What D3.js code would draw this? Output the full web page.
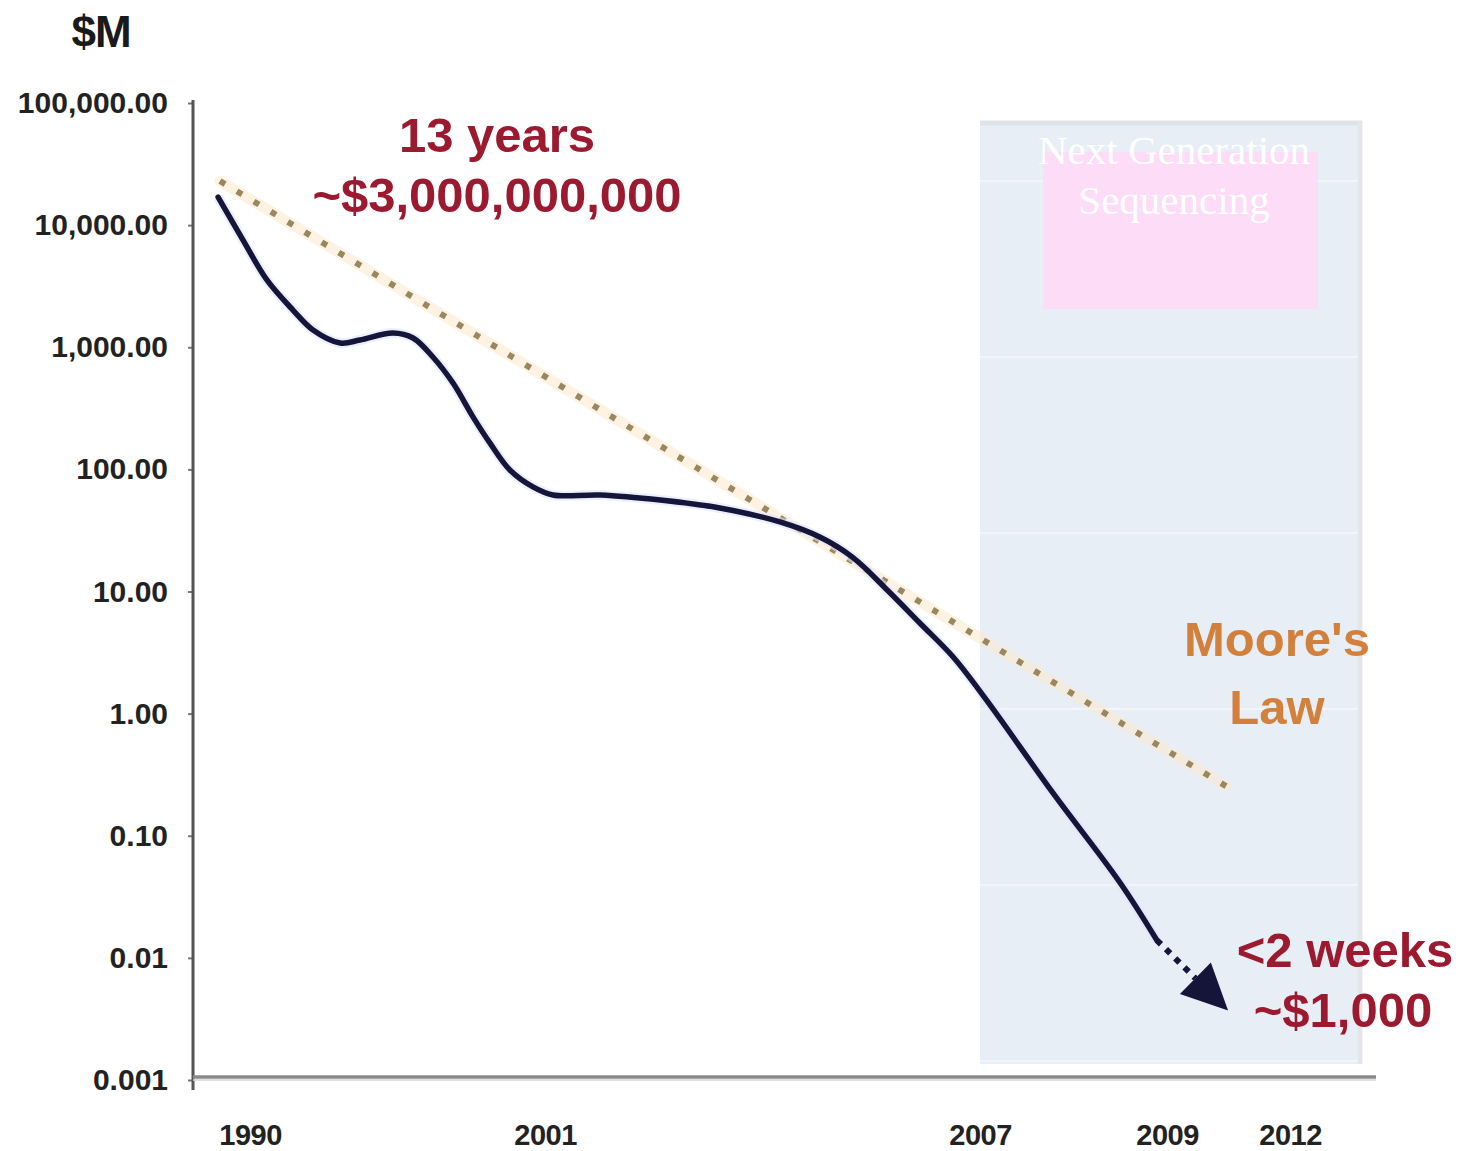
<!DOCTYPE html>
<html>
<head>
<meta charset="utf-8">
<script src="https://cdn.jsdelivr.net/npm/d3@7"></script>
<style>
  html, body { margin: 0; padding: 0; background: #ffffff; }
  svg { display: block; }
</style>
</head>
<body>
<svg id="chart" width="1459" height="1151"></svg>
<script>
// ---------------- DATA ----------------
const xTickYears = [1990, 2001, 2007, 2009, 2012];
const xTickLabels = ["1990", "2001", "2007", "2009", "2012"];

const yTickValues = [100000, 10000, 1000, 100, 10, 1, 0.1, 0.01, 0.001];
const yTickLabels = ["100,000.00", "10,000.00", "1,000.00", "100.00", "10.00", "1.00", "0.10", "0.01", "0.001"];

// Cost per genome ($M)
const costYears = [1988.81, 1989.74, 1990.63, 1991.60, 1992.35, 1993.36, 1994.10, 1995.33, 1996.08, 1996.82,
                   1997.57, 1998.32, 1998.95, 1999.69, 2000.55, 2001.11, 2001.76, 2002.59, 2003.41, 2004.24,
                   2004.79, 2005.24, 2005.72, 2006.17, 2006.63, 2007.07, 2007.78, 2008.50, 2008.89];
const costValues = [16990, 7550, 3556, 2018, 1384, 1084, 1147, 1308, 1191, 832,
                    509, 268, 164, 98.8, 71.8, 61.7, 61.7, 56.1, 48.3, 37.1,
                    27.9, 19.1, 10.3, 5.52, 2.91, 1.29, 0.224, 0.041, 0.014];

// Projection to the ~$1,000 genome (dotted + arrow)
const projYears = [2008.89, 2010.49];
const projValues = [0.014, 0.0037];

// Moore's Law trend line
const mooreYears = [1988.88, 2010.44];
const mooreValues = [22960, 0.255];

// Next-generation sequencing era start
const ngsStartYear = 2007;

// ---------------- LAYOUT ----------------
const svg = d3.select("#chart");
const W = 1459, H = 1151;
const font = "'Liberation Sans', Arial, Helvetica, sans-serif";

const x = d3.scaleLinear().domain(xTickYears).range([250, 545, 980, 1167, 1290]);
const y = d3.scaleLog().domain([0.001, 100000]).range([1080, 103]);

const axisX = 193, axisY = 1077;
const shadeRight = 1362, shadeTop = 121, shadeBottom = 1064;

svg.append("rect").attr("width", W).attr("height", H).attr("fill", "#ffffff");

// NGS shaded region
const sx = x(ngsStartYear);
svg.append("rect")
  .attr("x", sx).attr("y", shadeTop)
  .attr("width", shadeRight - sx).attr("height", shadeBottom - shadeTop)
  .attr("fill", "#e7eef5");
svg.append("line")
  .attr("x1", sx).attr("x2", shadeRight).attr("y1", shadeTop + 2).attr("y2", shadeTop + 2)
  .attr("stroke", "#dfe3e7").attr("stroke-width", 5);
svg.append("line")
  .attr("x1", shadeRight - 2).attr("x2", shadeRight - 2).attr("y1", shadeTop).attr("y2", shadeBottom)
  .attr("stroke", "#e4e7ea").attr("stroke-width", 5);
// faint white grid lines inside the shaded region
[181, 357, 533, 709, 885, 1061].forEach(gy => {
  svg.append("line")
    .attr("x1", sx).attr("x2", shadeRight - 4).attr("y1", gy).attr("y2", gy)
    .attr("stroke", "#ffffff").attr("stroke-width", 1.2).attr("opacity", 0.9);
});

// Pink box + title
svg.append("rect")
  .attr("x", 1043).attr("y", 152).attr("width", 275).attr("height", 157)
  .attr("fill", "#fcdcf7");
const ngsText = svg.append("text")
  .attr("text-anchor", "middle")
  .attr("font-family", "'Liberation Serif', 'Times New Roman', serif")
  .attr("font-size", 41).attr("fill", "#ffffff");
ngsText.append("tspan").attr("x", 1174).attr("y", 164).text("Next Generation");
ngsText.append("tspan").attr("x", 1174).attr("y", 214).text("Sequencing");

// Y axis
const yAxis = d3.axisLeft(y)
  .tickValues(yTickValues)
  .tickFormat((d, i) => yTickLabels[i])
  .tickSize(5).tickPadding(20);
const gy = svg.append("g").attr("transform", `translate(${axisX},0)`).call(yAxis);
gy.select(".domain").remove();
gy.selectAll(".tick line").attr("stroke", "#777").attr("stroke-width", 2);
gy.selectAll(".tick text")
  .attr("font-family", font).attr("font-size", 30).attr("font-weight", "bold")
  .attr("fill", "#222");
svg.append("line")
  .attr("x1", axisX).attr("x2", axisX).attr("y1", 100).attr("y2", 1090)
  .attr("stroke", "#555").attr("stroke-width", 3);

// X axis
const xAxis = d3.axisBottom(x)
  .tickValues(xTickYears)
  .tickFormat((d, i) => xTickLabels[i])
  .tickSize(0).tickPadding(47);
const gx = svg.append("g").attr("transform", `translate(0,${axisY})`).call(xAxis);
gx.select(".domain").remove();
gx.selectAll(".tick text")
  .attr("font-family", font).attr("font-size", 29).attr("font-weight", "bold")
  .attr("fill", "#222").attr("letter-spacing", -0.5);
svg.append("line")
  .attr("x1", axisX).attr("x2", 1376).attr("y1", axisY).attr("y2", axisY)
  .attr("stroke", "#8a8a8a").attr("stroke-width", 3.5);
svg.append("line")
  .attr("x1", axisX).attr("x2", 1376).attr("y1", axisY + 3).attr("y2", axisY + 3)
  .attr("stroke", "#d6d6d6").attr("stroke-width", 1.5);

// $M label
svg.append("text")
  .attr("x", 101).attr("y", 47).attr("text-anchor", "middle")
  .attr("font-family", font).attr("font-size", 44).attr("font-weight", "bold")
  .attr("fill", "#1a1a1a").attr("letter-spacing", -1).text("$M");

// Moore's law dotted line
const mooreData = mooreYears.map((yr, i) => [yr, mooreValues[i]]);
const straight = d3.line().x(d => x(d[0])).y(d => y(d[1]));
svg.append("path").datum(mooreData).attr("d", straight)
  .attr("fill", "none").attr("stroke", "#fde9cc").attr("stroke-width", 11)
  .attr("stroke-linecap", "round").attr("opacity", 0.55);
svg.append("path").datum(mooreData).attr("d", straight)
  .attr("fill", "none").attr("stroke", "#9a875f").attr("stroke-width", 6)
  .attr("stroke-dasharray", "6,13.8");

// Cost line
const costData = costYears.map((yr, i) => [yr, costValues[i]]);
const smooth = d3.line().x(d => x(d[0])).y(d => y(d[1])).curve(d3.curveCatmullRom.alpha(0.5));
svg.append("path").datum(costData).attr("d", smooth)
  .attr("fill", "none").attr("stroke", "#dfe4fb").attr("stroke-width", 10).attr("opacity", 0.6)
  .attr("stroke-linejoin", "round");
svg.append("path").datum(costData).attr("d", smooth)
  .attr("fill", "none").attr("stroke", "#15153a").attr("stroke-width", 5.5)
  .attr("stroke-linejoin", "round").attr("stroke-linecap", "round");

// Projection: dotted + arrowhead
const projData = projYears.map((yr, i) => [yr, projValues[i]]);
const p0 = [x(projData[0][0]), y(projData[0][1])];
const p1 = [x(projData[1][0]), y(projData[1][1])];
const dx = p1[0] - p0[0], dy = p1[1] - p0[1];
const len = Math.hypot(dx, dy), ux = dx / len, uy = dy / len;
const headLen = 46, headHalf = 22;
const base = [p1[0] - ux * headLen, p1[1] - uy * headLen];
svg.append("path")
  .attr("d", `M${p0[0]},${p0[1]}L${base[0]},${base[1]}`)
  .attr("fill", "none").attr("stroke", "#15153a").attr("stroke-width", 6)
  .attr("stroke-dasharray", "6,7");
svg.append("path")
  .attr("d", `M${p1[0]},${p1[1]}L${base[0] - uy * headHalf},${base[1] + ux * headHalf}L${base[0] + uy * headHalf},${base[1] - ux * headHalf}Z`)
  .attr("fill", "#15153a");

// Annotations
const red = "#9c1a2f";
function label(txt, cx, by, color, size) {
  svg.append("text").attr("x", cx).attr("y", by).attr("text-anchor", "middle")
    .attr("font-family", font).attr("font-size", size).attr("font-weight", "bold")
    .attr("fill", color).text(txt);
}
label("13 years", 497, 152, red, 49);
label("~$3,000,000,000", 497, 212, red, 49);
label("Moore's", 1277, 656, "#d2803c", 49);
label("Law", 1277, 724, "#d2803c", 49);
label("<2 weeks", 1345, 967, red, 49);
label("~$1,000", 1343, 1027, red, 49);
</script>
</body>
</html>
